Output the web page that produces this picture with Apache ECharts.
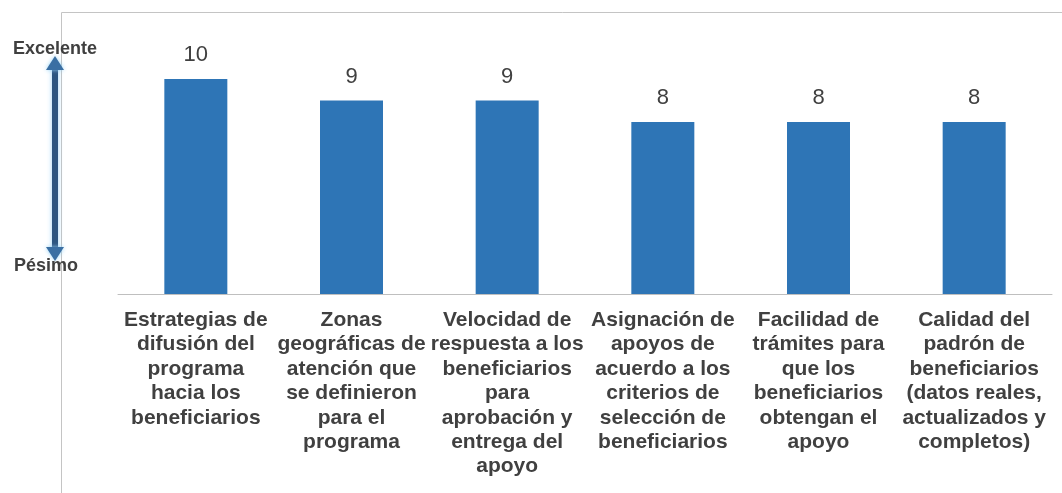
<!DOCTYPE html>
<html>
<head>
<meta charset="utf-8">
<script src="https://cdn.jsdelivr.net/npm/echarts@6/dist/echarts.min.js"></script>
<style>
  html, body { margin: 0; padding: 0; background: #fff; }
  #chart { width: 1062px; height: 493px; }
</style>
</head>
<body>
<div id="chart"></div>
<script>
// categorías (con los saltos de línea del original)
const categories = [
  'Estrategias de\ndifusión del\nprograma\nhacia los\nbeneficiarios',
  'Zonas\ngeográficas de\natención que\nse definieron\npara el\nprograma',
  'Velocidad de\nrespuesta a los\nbeneficiarios\npara\naprobación y\nentrega del\napoyo',
  'Asignación de\napoyos de\nacuerdo a los\ncriterios de\nselección de\nbeneficiarios',
  'Facilidad de\ntrámites para\nque los\nbeneficiarios\nobtengan el\napoyo',
  'Calidad del\npadrón de\nbeneficiarios\n(datos reales,\nactualizados y\ncompletos)'
]
const scores = [10, 9, 9, 8, 8, 8]
const scaleLabels = ['Excelente', 'Pésimo']

const FONT = "'Liberation Sans', Arial, sans-serif"
const chart = echarts.init(document.getElementById('chart'), null, { renderer: 'canvas' })

const glow = 'rgba(150,210,245,0.95)'

const option = {
  animation: false,
  grid: { left: 118, right: 10, top: 79, bottom: 199, containLabel: false },
  xAxis: {
    type: 'category',
    data: categories,
    axisLine: { lineStyle: { color: '#bfbfbf', width: 1 } },
    axisTick: { show: false },
    axisLabel: {
      interval: 0,
      margin: 14,
      color: '#404040',
      fontFamily: FONT,
      fontWeight: 'bold',
      fontSize: 21,
      lineHeight: 24.4,
      align: 'center'
    }
  },
  yAxis: {
    type: 'value',
    min: 0,
    max: 10,
    show: false
  },
  graphic: [
    // marco del gráfico
    {
      type: 'rect',
      z: 0,
      shape: { x: 61.5, y: 12.5, width: 1200, height: 700 },
      style: { fill: 'none', stroke: '#c4c4c4', lineWidth: 1 }
    },
    // flecha doble
    {
      type: 'group',
      z: 5,
      children: [
        {
          type: 'line',
          shape: { x1: 55, y1: 64, x2: 55, y2: 253 },
          style: {
            stroke: '#2c5580', lineWidth: 6,
            shadowBlur: 5, shadowColor: glow
          }
        },
        {
          type: 'polygon',
          shape: { points: [[46, 70], [55, 56], [64, 70]] },
          style: { fill: '#3a6fa3', shadowBlur: 4, shadowColor: glow }
        },
        {
          type: 'polygon',
          shape: { points: [[46, 247], [55, 261], [64, 247]] },
          style: { fill: '#3a6fa3', shadowBlur: 4, shadowColor: glow }
        }
      ]
    },
    {
      type: 'text',
      z: 10,
      left: 13,
      top: 40,
      style: {
        text: scaleLabels[0],
        fill: '#404040',
        font: 'bold 18px ' + FONT
      }
    },
    {
      type: 'text',
      z: 10,
      left: 14,
      top: 257,
      style: {
        text: scaleLabels[1],
        fill: '#404040',
        font: 'bold 18px ' + FONT
      }
    }
  ],
  series: [
    {
      type: 'bar',
      data: scores,
      barWidth: 63,
      itemStyle: { color: '#2e75b6' },
      label: {
        show: true,
        position: 'top',
        distance: 13,
        color: '#404040',
        fontFamily: FONT,
        fontSize: 22
      }
    }
  ]
}

chart.setOption(option)
</script>
</body>
</html>
